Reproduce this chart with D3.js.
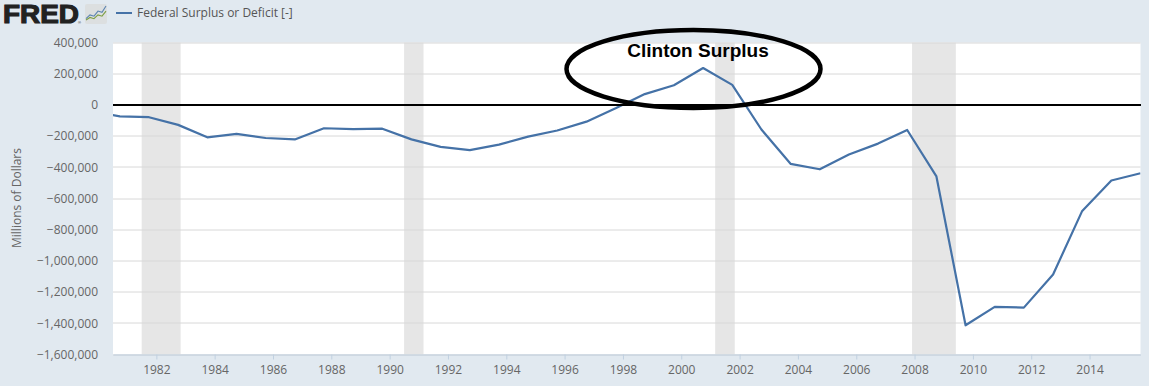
<!DOCTYPE html>
<html>
<head>
<meta charset="utf-8">
<script src="https://cdn.jsdelivr.net/npm/d3@7"></script>
<style>
  html, body { margin: 0; padding: 0; background: #e1e9f0; overflow: hidden; }
  svg { display: block; }
  text { font-family: "Open Sans", sans-serif; }
</style>
</head>
<body>
<div id="chart"></div>
<script>
// fiscal years, plotted at 1 October of each year
var years = [1979, 1980, 1981, 1982, 1983, 1984, 1985, 1986, 1987, 1988, 1989, 1990,
    1991, 1992, 1993, 1994, 1995, 1996, 1997, 1998, 1999, 2000, 2001, 2002, 2003,
    2004, 2005, 2006, 2007, 2008, 2009, 2010, 2011, 2012, 2013, 2014, 2015];
var deficit = [-40700, -73800, -79000, -128000, -207800, -185400, -212300, -221200,
    -149700, -155200, -152600, -221000, -269200, -290300, -255000, -203200, -164000,
    -107400, -21900, 69300, 125600, 236200, 128200, -157800, -377600, -412700,
    -318300, -248200, -160700, -458600, -1412700, -1294400, -1299600, -1087000,
    -679500, -484600, -438500];

var recessionStart = ["1981-07-01", "1990-07-01", "2001-03-01", "2007-12-01"];
var recessionEnd = ["1982-11-01", "1991-03-01", "2001-11-01", "2009-06-01"];

var yTicks = [400000, 200000, 0, -200000, -400000, -600000, -800000, -1000000,
    -1200000, -1400000, -1600000];
var xTickYears = [1982, 1984, 1986, 1988, 1990, 1992, 1994, 1996, 1998, 2000,
    2002, 2004, 2006, 2008, 2010, 2012, 2014];

var seriesName = "Federal Surplus or Deficit [-]";
var yTitle = "Millions of Dollars";
var note = "Clinton Surplus";

// logo sparkline values (blue and green squiggles)
var logoBlue = [1, 4, 3, 7, 6, 11];
var logoGreen = [0, 2, 1, 4, 3, 7];

var margin = {top: 42.5, right: 8.5, bottom: 31.5, left: 113},
    width = 1149 - margin.left - margin.right,
    height = 386 - margin.top - margin.bottom;

var svg = d3.select("#chart")
    .append("svg")
    .attr("width", 1149)
    .attr("height", 386);

var g = svg.append("g")
    .attr("transform", "translate(" + margin.left + "," + margin.top + ")");

var xScale = d3.scaleUtc()
    .domain([new Date(Date.UTC(1980, 6, 7)), new Date(Date.UTC(2015, 9, 1))])
    .range([0, width]);

var yScale = d3.scaleLinear()
    .domain([-1600000, 400000])
    .range([height, 0]);

function yearDate(y) { return new Date(Date.UTC(y, 0, 1)); }

g.append("rect")
    .attr("width", width)
    .attr("height", height)
    .attr("fill", "#fff");

// recession bands
g.selectAll(".band")
    .data(recessionStart)
    .enter().append("rect")
    .attr("class", "band")
    .attr("x", function(d) { return xScale(new Date(d)); })
    .attr("width", function(d, i) { return xScale(new Date(recessionEnd[i])) - xScale(new Date(d)); })
    .attr("height", height)
    .attr("fill", "#e6e6e6");

// grid lines
g.append("g")
    .selectAll("line")
    .data(yTicks)
    .enter().append("line")
    .attr("x2", width)
    .attr("y1", function(d) { return Math.round(yScale(d) - 0.5) + 0.5; })
    .attr("y2", function(d) { return Math.round(yScale(d) - 0.5) + 0.5; })
    .attr("stroke", "#d8d8d8")
    .attr("stroke-width", 1);

// y axis, labels only
var yAxis = g.append("g")
    .call(d3.axisLeft(yScale).tickValues(yTicks).tickSize(0).tickPadding(15)
        .tickFormat(d3.format(",")));
yAxis.select(".domain").remove();
yAxis.selectAll("text")
    .attr("font-size", "12px")
    .attr("font-family", '"Open Sans", sans-serif')
    .attr("fill", "#666");

// x axis
var xAxis = g.append("g")
    .attr("transform", "translate(0," + height + ")")
    .call(d3.axisBottom(xScale).tickValues(xTickYears.map(yearDate)).tickSize(5)
        .tickSizeOuter(0).tickPadding(6).tickFormat(d3.utcFormat("%Y")));
xAxis.select(".domain").attr("stroke", "#c0d0e0");
xAxis.selectAll("line").attr("stroke", "#c0d0e0");
xAxis.selectAll("text")
    .attr("font-size", "12px")
    .attr("font-family", '"Open Sans", sans-serif')
    .attr("fill", "#666");

g.append("clipPath")
    .attr("id", "plot-clip")
    .append("rect")
    .attr("width", width)
    .attr("height", height);

// the series
var line = d3.line()
    .x(function(d, i) { return xScale(new Date(Date.UTC(years[i], 9, 1))); })
    .y(function(d) { return yScale(d); });

g.append("path")
    .datum(deficit)
    .attr("clip-path", "url(#plot-clip)")
    .attr("fill", "none")
    .attr("stroke", "#4572a7")
    .attr("stroke-width", 2.2)
    .attr("stroke-linejoin", "round")
    .attr("d", line);

// hand drawn annotation on top of the chart
g.append("line")
    .attr("x2", width + 0.5)
    .attr("y1", yScale(0))
    .attr("y2", yScale(0))
    .attr("stroke", "#000")
    .attr("stroke-width", 2);

svg.append("ellipse")
    .attr("cx", 693.5)
    .attr("cy", 69)
    .attr("rx", 127)
    .attr("ry", 39)
    .attr("fill", "none")
    .attr("stroke", "#000")
    .attr("stroke-width", 4.5);

svg.append("text")
    .attr("x", 698)
    .attr("y", 57)
    .attr("text-anchor", "middle")
    .style("font-family", '"Liberation Sans", Arial, sans-serif')
    .attr("font-weight", "bold")
    .attr("font-size", "19px")
    .attr("fill", "#000")
    .text(note);

// y axis title
svg.append("text")
    .attr("transform", "translate(21,198) rotate(-90)")
    .attr("text-anchor", "middle")
    .attr("font-size", "12px")
    .attr("fill", "#666")
    .text(yTitle);

// legend
svg.append("line")
    .attr("x1", 116).attr("x2", 132)
    .attr("y1", 13).attr("y2", 13)
    .attr("stroke", "#4572a7")
    .attr("stroke-width", 2);

svg.append("text")
    .attr("x", 137)
    .attr("y", 17)
    .attr("font-size", "12px")
    .attr("fill", "#555")
    .text(seriesName);

// FRED logo
svg.append("text")
    .attr("x", 3)
    .attr("y", 23)
    .style("font-family", '"Liberation Sans", Arial, sans-serif')
    .attr("font-weight", "bold")
    .attr("font-size", "25px")
    .attr("stroke", "#222")
    .attr("stroke-width", 1.1)
    .attr("fill", "#222")
    .attr("textLength", 76)
    .attr("lengthAdjust", "spacingAndGlyphs")
    .text("FRED");

svg.append("text")
    .attr("x", 78)
    .attr("y", 24)
    .style("font-family", '"Liberation Sans", Arial, sans-serif')
    .attr("font-size", "4px")
    .attr("fill", "#222")
    .text("®");

svg.append("rect")
    .attr("x", 85).attr("y", 4)
    .attr("width", 22).attr("height", 20)
    .attr("rx", 2)
    .attr("fill", "#dcdfe0");

var logoX = d3.scaleLinear().domain([0, logoBlue.length - 1]).range([86, 106]);
var logoY = d3.scaleLinear().domain([0, 11]).range([20, 6]);
var logoLine = d3.line()
    .x(function(d, i) { return logoX(i); })
    .y(function(d) { return logoY(d); });

svg.append("path").datum(logoBlue)
    .attr("d", logoLine).attr("fill", "none")
    .attr("stroke", "#5b84b1").attr("stroke-width", 1.1);
svg.append("path").datum(logoGreen)
    .attr("d", logoLine).attr("fill", "none")
    .attr("stroke", "#7d9f45").attr("stroke-width", 1.1);
</script>
</body>
</html>
